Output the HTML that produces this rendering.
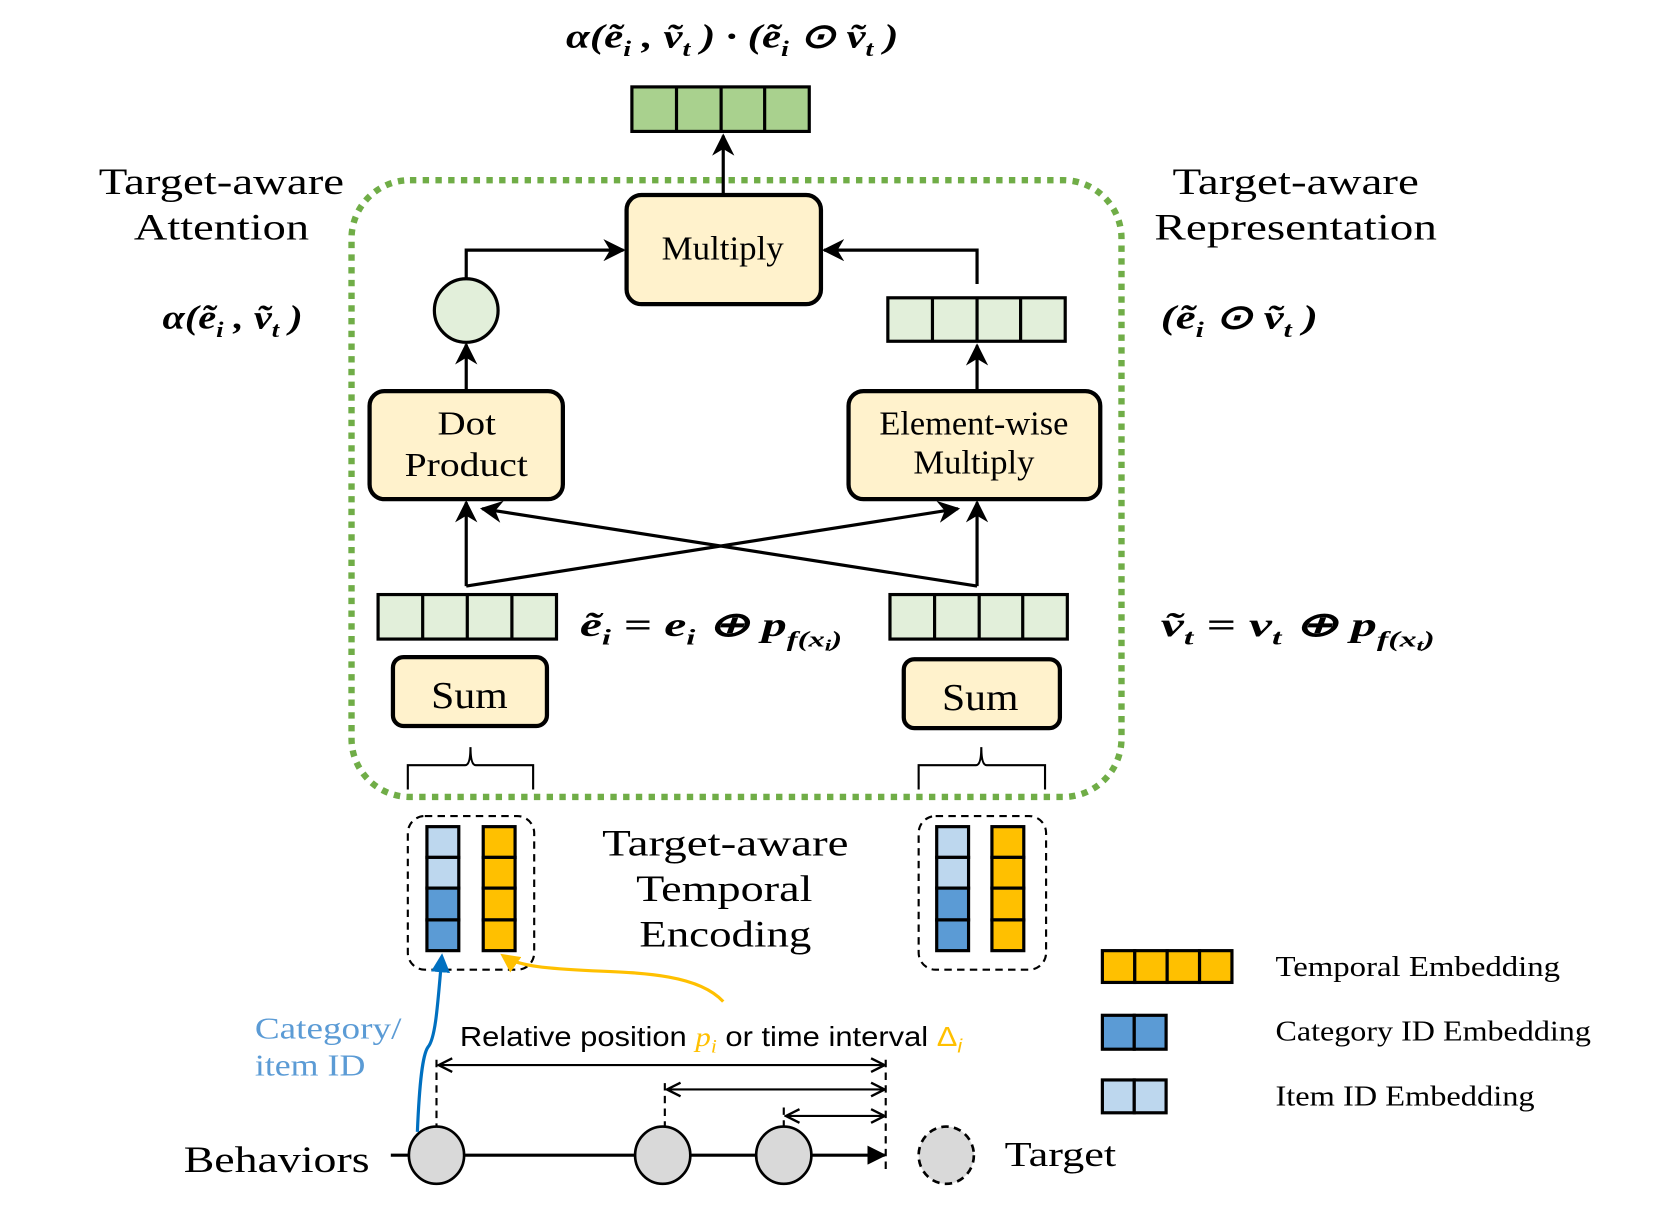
<!DOCTYPE html>
<html><head><meta charset="utf-8"><style>html,body{margin:0;padding:0;background:#fff}svg{display:block}</style></head><body>
<svg width="1661" height="1205" viewBox="2 0 1564 1137" preserveAspectRatio="none" xmlns="http://www.w3.org/2000/svg" font-family="Liberation Serif, serif">
<defs>
<marker id="a" viewBox="0 0 10 10" refX="9" refY="5" markerWidth="7" markerHeight="7" orient="auto-start-reverse"><path d="M0,0 L10,5 L0,10 L3,5 z" fill="#000"/></marker>
<marker id="o" viewBox="0 0 10 10" refX="9" refY="5" markerWidth="8" markerHeight="8" orient="auto-start-reverse"><path d="M1,1 L9,5 L1,9" fill="none" stroke="#000" stroke-width="1.4"/></marker>
<marker id="f" viewBox="0 0 10 10" refX="9" refY="5" markerWidth="6" markerHeight="6" orient="auto"><path d="M0,0 L10,5 L0,10 z" fill="#000"/></marker>
<marker id="b" viewBox="0 0 10 10" refX="8" refY="5" markerWidth="6" markerHeight="6" orient="auto"><path d="M0,0 L10,5 L0,10 z" fill="#0070c0"/></marker>
<marker id="y" viewBox="0 0 10 10" refX="8" refY="5" markerWidth="6" markerHeight="6" orient="auto"><path d="M0,0 L10,5 L0,10 z" fill="#ffc000"/></marker>
</defs>
<g font-style="italic" font-weight="bold" font-size="32" lengthAdjust="spacingAndGlyphs">
<text x="535" y="45" textLength="313" lengthAdjust="spacingAndGlyphs">α(ẽ<tspan font-size="21" dy="8">i</tspan><tspan dy="-8"> , ṽ</tspan><tspan font-size="21" dy="8">t</tspan><tspan dy="-8"> ) · (ẽ</tspan><tspan font-size="21" dy="8">i</tspan><tspan dy="-8"> ⊙ ṽ</tspan><tspan font-size="21" dy="8">t</tspan><tspan dy="-8"> )</tspan></text>
<text x="155" y="310" textLength="132" lengthAdjust="spacingAndGlyphs">α(ẽ<tspan font-size="21" dy="8">i</tspan><tspan dy="-8"> , ṽ</tspan><tspan font-size="21" dy="8">t</tspan><tspan dy="-8"> )</tspan></text>
<text x="1095" y="310" textLength="148" lengthAdjust="spacingAndGlyphs">(ẽ<tspan font-size="21" dy="8">i</tspan><tspan dy="-8"> ⊙ ṽ</tspan><tspan font-size="21" dy="8">t</tspan><tspan dy="-8"> )</tspan></text>
<text x="548" y="600" textLength="247" lengthAdjust="spacingAndGlyphs">ẽ<tspan font-size="21" dy="8">i</tspan><tspan dy="-8"> = e</tspan><tspan font-size="21" dy="8">i</tspan><tspan dy="-8"> ⊕ p</tspan><tspan font-size="21" dy="10">f(x</tspan><tspan font-size="15" dy="4">i</tspan><tspan font-size="21" dy="-4">)</tspan></text>
<text x="1095" y="600" textLength="258" lengthAdjust="spacingAndGlyphs">ṽ<tspan font-size="21" dy="8">t</tspan><tspan dy="-8"> = v</tspan><tspan font-size="21" dy="8">t</tspan><tspan dy="-8"> ⊕ p</tspan><tspan font-size="21" dy="10">f(x</tspan><tspan font-size="15" dy="4">t</tspan><tspan font-size="21" dy="-4">)</tspan></text>
</g>
<g stroke="#000" stroke-width="3" fill="#a9d18e">
<rect x="597" y="82" width="167" height="42"/><line x1="639" y1="82" x2="639" y2="124"/><line x1="681" y1="82" x2="681" y2="124"/><line x1="722" y1="82" x2="722" y2="124"/>
</g>
<g stroke="#000" stroke-width="3" fill="#e2efda">
<rect x="838" y="281" width="167" height="41"/><line x1="880" y1="281" x2="880" y2="322"/><line x1="922" y1="281" x2="922" y2="322"/><line x1="963" y1="281" x2="963" y2="322"/>
<rect x="358" y="561" width="168" height="42"/><line x1="400" y1="561" x2="400" y2="603"/><line x1="442" y1="561" x2="442" y2="603"/><line x1="484" y1="561" x2="484" y2="603"/>
<rect x="840" y="561" width="167" height="42"/><line x1="882" y1="561" x2="882" y2="603"/><line x1="924" y1="561" x2="924" y2="603"/><line x1="965" y1="561" x2="965" y2="603"/>
<circle cx="441" cy="293" r="30"/>
</g>
<rect x="333" y="170" width="725" height="582" rx="55" fill="none" stroke="#70ad47" stroke-width="6" stroke-dasharray="6 6"/>
<g stroke="#000" stroke-width="4" fill="#fff2cc">
<rect x="592" y="184" width="183" height="103" rx="14"/>
<rect x="350" y="369" width="182" height="102" rx="14"/>
<rect x="801" y="369" width="237" height="102" rx="14"/>
<rect x="372" y="620" width="145" height="65" rx="10"/>
<rect x="853" y="622" width="147" height="65" rx="10"/>
</g>
<g font-size="32">
<text x="625" y="245" textLength="115" lengthAdjust="spacingAndGlyphs">Multiply</text>
<text x="414" y="410" textLength="55" lengthAdjust="spacingAndGlyphs">Dot</text><text x="383" y="449" textLength="116" lengthAdjust="spacingAndGlyphs">Product</text>
<text x="830" y="410" textLength="178" lengthAdjust="spacingAndGlyphs">Element-wise</text><text x="862" y="447" textLength="114" lengthAdjust="spacingAndGlyphs">Multiply</text>
<text x="408" y="668" font-size="36" textLength="72" lengthAdjust="spacingAndGlyphs">Sum</text><text x="889" y="670" font-size="36" textLength="72" lengthAdjust="spacingAndGlyphs">Sum</text>
<text x="95" y="183" font-size="35" textLength="231" lengthAdjust="spacingAndGlyphs">Target-aware</text><text x="128" y="226" font-size="35" textLength="165" lengthAdjust="spacingAndGlyphs">Attention</text>
<text x="1106" y="183" font-size="35" textLength="232" lengthAdjust="spacingAndGlyphs">Target-aware</text><text x="1089" y="226" font-size="35" textLength="266" lengthAdjust="spacingAndGlyphs">Representation</text>
<text x="569" y="807" font-size="35" textLength="232" lengthAdjust="spacingAndGlyphs">Target-aware</text><text x="601" y="850" font-size="35" textLength="166" lengthAdjust="spacingAndGlyphs">Temporal</text><text x="604" y="893" font-size="35" textLength="162" lengthAdjust="spacingAndGlyphs">Encoding</text>
</g>
<g stroke="#000" stroke-width="3" fill="none">
<line x1="683" y1="183" x2="683" y2="128" marker-end="url(#a)"/>
<polyline points="441,263 441,236 589,236" marker-end="url(#a)"/>
<polyline points="922,268 922,236 778,236" marker-end="url(#a)"/>
<line x1="441" y1="369" x2="441" y2="325" marker-end="url(#a)"/>
<line x1="922" y1="369" x2="922" y2="326" marker-end="url(#a)"/>
<line x1="441" y1="553" x2="441" y2="474" marker-end="url(#a)"/>
<line x1="441" y1="553" x2="904" y2="480" marker-end="url(#a)"/>
<line x1="922" y1="553" x2="922" y2="474" marker-end="url(#a)"/>
<line x1="922" y1="553" x2="456" y2="480" marker-end="url(#a)"/>
</g>
<g stroke="#000" stroke-width="2" fill="none">
<path d="M386,745 L386,722 L440,722 Q445,722 445,705 Q445,722 450,722 L504,722 L504,745"/>
<path d="M867,745 L867,722 L921,722 Q926,722 926,705 Q926,722 931,722 L986,722 L986,745"/>
<rect x="386" y="770" width="119" height="145" rx="16" stroke-dasharray="7 5"/>
<rect x="867" y="770" width="120" height="145" rx="16" stroke-dasharray="7 5"/>
</g>
<g stroke="#000" stroke-width="3">
<rect x="404" y="780" width="30" height="29" fill="#bdd7ee"/><rect x="404" y="809" width="30" height="29" fill="#bdd7ee"/><rect x="404" y="838" width="30" height="30" fill="#5b9bd5"/><rect x="404" y="868" width="30" height="29" fill="#5b9bd5"/>
<rect x="457" y="780" width="30" height="29" fill="#ffc000"/><rect x="457" y="809" width="30" height="29" fill="#ffc000"/><rect x="457" y="838" width="30" height="30" fill="#ffc000"/><rect x="457" y="868" width="30" height="29" fill="#ffc000"/>
<rect x="884" y="780" width="30" height="29" fill="#bdd7ee"/><rect x="884" y="809" width="30" height="29" fill="#bdd7ee"/><rect x="884" y="838" width="30" height="30" fill="#5b9bd5"/><rect x="884" y="868" width="30" height="29" fill="#5b9bd5"/>
<rect x="936" y="780" width="30" height="29" fill="#ffc000"/><rect x="936" y="809" width="30" height="29" fill="#ffc000"/><rect x="936" y="838" width="30" height="30" fill="#ffc000"/><rect x="936" y="868" width="30" height="29" fill="#ffc000"/>
<rect x="1040" y="897" width="30.5" height="30" fill="#ffc000"/><rect x="1070.5" y="897" width="30.5" height="30" fill="#ffc000"/><rect x="1101" y="897" width="30.5" height="30" fill="#ffc000"/><rect x="1131.5" y="897" width="30.5" height="30" fill="#ffc000"/>
<rect x="1040" y="958" width="30" height="32" fill="#5b9bd5"/><rect x="1070" y="958" width="30" height="32" fill="#5b9bd5"/>
<rect x="1040" y="1019" width="30" height="31" fill="#bdd7ee"/><rect x="1070" y="1019" width="30" height="31" fill="#bdd7ee"/>
</g>
<g font-size="27">
<text x="1203" y="921" textLength="268" lengthAdjust="spacingAndGlyphs">Temporal Embedding</text>
<text x="1203" y="982" textLength="297" lengthAdjust="spacingAndGlyphs">Category ID Embedding</text>
<text x="1203" y="1043" textLength="244" lengthAdjust="spacingAndGlyphs">Item ID Embedding</text>
<text x="175" y="1106" font-size="35" textLength="175" lengthAdjust="spacingAndGlyphs">Behaviors</text>
<text x="948" y="1100" font-size="33" textLength="105" lengthAdjust="spacingAndGlyphs">Target</text>
<text x="242" y="980" fill="#5b9bd5" font-size="29" textLength="138" lengthAdjust="spacingAndGlyphs">Category/</text>
<text x="242" y="1015" fill="#5b9bd5" font-size="29" textLength="104" lengthAdjust="spacingAndGlyphs">item ID</text>
</g>
<text x="435" y="987" font-family="Liberation Sans, sans-serif" font-size="26" textLength="473" lengthAdjust="spacingAndGlyphs">Relative position <tspan fill="#ffc000" font-family="Liberation Serif, serif" font-style="italic">p<tspan font-size="18" dy="6">i</tspan></tspan><tspan dy="-6"> or time interval </tspan><tspan fill="#ffc000">Δ<tspan font-size="18" dy="6" font-style="italic">i</tspan></tspan></text>
<g stroke="#000" stroke-width="2" fill="none">
<line x1="370" y1="1090" x2="835" y2="1090" stroke-width="3" marker-end="url(#f)"/>
<line x1="413" y1="1000" x2="413" y2="1064" stroke-dasharray="7 5"/>
<line x1="628" y1="1022" x2="628" y2="1064" stroke-dasharray="7 5"/>
<line x1="740" y1="1045" x2="740" y2="1064" stroke-dasharray="7 5"/>
<line x1="836" y1="1000" x2="836" y2="1105" stroke-dasharray="7 5"/>
<line x1="415" y1="1005" x2="835" y2="1005" marker-start="url(#o)" marker-end="url(#o)"/>
<line x1="630" y1="1028" x2="835" y2="1028" marker-start="url(#o)" marker-end="url(#o)"/>
<line x1="742" y1="1053" x2="835" y2="1053" marker-start="url(#o)" marker-end="url(#o)"/>
</g>
<g stroke="#000" stroke-width="2.5" fill="#d9d9d9">
<ellipse cx="413" cy="1090" rx="26" ry="27"/><ellipse cx="626" cy="1090" rx="26" ry="27"/><ellipse cx="740" cy="1090" rx="26" ry="27"/>
<ellipse cx="893" cy="1090" rx="26" ry="27" stroke-dasharray="7 5"/>
</g>
<path d="M395,1068 C397,1020 400,995 405,988 C412,980 414,950 418,903" stroke="#0070c0" stroke-width="3" fill="none" marker-end="url(#b)"/>
<path d="M683,945 C660,920 610,918 560,916 C520,914 490,912 476,902" stroke="#ffc000" stroke-width="3" fill="none" marker-end="url(#y)"/>
</svg>
</body></html>
